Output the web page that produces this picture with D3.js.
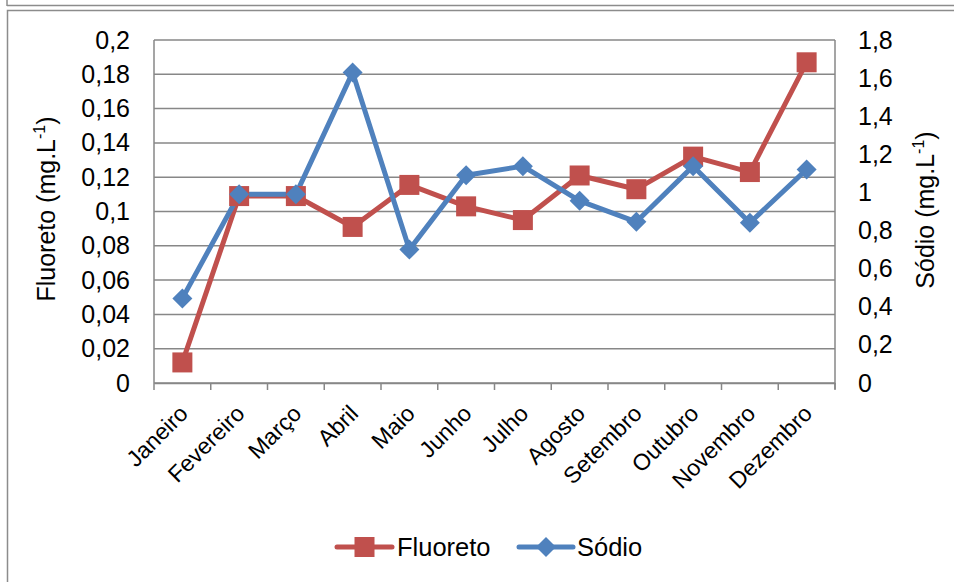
<!DOCTYPE html>
<html><head><meta charset="utf-8">
<script src="https://cdn.jsdelivr.net/npm/d3@7"></script>
<style>body{margin:0;background:#fff}svg{display:block;font-family:"Liberation Sans",Arial,sans-serif}</style>
</head><body>
<svg id="c" width="954" height="582"></svg>
<script>
const months = ["Janeiro","Fevereiro","Março","Abril","Maio","Junho","Julho","Agosto","Setembro","Outubro","Novembro","Dezembro"];
const fluoreto = [0.012,0.109,0.109,0.091,0.1155,0.103,0.095,0.121,0.113,0.132,0.123,0.187];
const sodio = [0.444,0.99,0.99,1.63,0.70,1.09,1.138,0.956,0.846,1.138,0.841,1.121];
const leftTicks = [0,0.02,0.04,0.06,0.08,0.1,0.12,0.14,0.16,0.18,0.2];
const rightTicks = [0,0.2,0.4,0.6,0.8,1,1.2,1.4,1.6,1.8];

const svg = d3.select("#c");
const L=154, R=835, T=40, B=383;
const red="#C0504D", blue="#4F81BD", grid="#878787";
const FF = "Liberation Sans, Arial, sans-serif";
const fmt = v => String(+v.toFixed(2)).replace(".", ",");

// frame
svg.append("line").attr("x1",7).attr("x2",960).attr("y1",5.5).attr("y2",5.5).attr("stroke","#8c8c8c").attr("stroke-width",1.5);
svg.append("line").attr("x1",7).attr("x2",7).attr("y1",0).attr("y2",6).attr("stroke","#8c8c8c").attr("stroke-width",1.5);
svg.append("rect").attr("x",7.5).attr("y",10.5).attr("width",960).attr("height",600).attr("fill","none").attr("stroke","#8c8c8c").attr("stroke-width",1.5);

const x = d3.scaleBand().domain(months).range([L,R]);
const yL = d3.scaleLinear().domain([0,0.2]).range([B,T]);
const yR = d3.scaleLinear().domain([0,1.8]).range([B,T]);

// gridlines
svg.append("g").selectAll("line").data(leftTicks).join("line")
  .attr("x1",L).attr("x2",R).attr("y1",d=>yL(d)).attr("y2",d=>yL(d))
  .attr("stroke",grid).attr("stroke-width",1.5);
// plot borders
svg.append("line").attr("x1",L).attr("x2",L).attr("y1",T).attr("y2",B).attr("stroke",grid).attr("stroke-width",1.5);
svg.append("line").attr("x1",R).attr("x2",R).attr("y1",T).attr("y2",B+6).attr("stroke",grid).attr("stroke-width",1.5);

// x axis
const gx = svg.append("g").attr("transform",`translate(0,${B})`).call(d3.axisBottom(x).tickSize(0).tickFormat(""));
gx.select(".domain").attr("stroke",grid).attr("stroke-width",1.5);
svg.append("g").selectAll("line").data(d3.range(months.length+1)).join("line")
  .attr("x1",i=>L+i*x.step()).attr("x2",i=>L+i*x.step()).attr("y1",B).attr("y2",B+7)
  .attr("stroke",grid).attr("stroke-width",1.5);
svg.append("g").selectAll("text").data(months).join("text")
  .attr("transform",d=>`translate(${x(d)+x.bandwidth()/2+7},${B+32}) rotate(-45)`)
  .attr("text-anchor","end").attr("font-size",23).attr("fill","#000").text(d=>d);

// y axes labels
const gl = svg.append("g").attr("transform",`translate(${L},0)`)
  .call(d3.axisLeft(yL).tickValues(leftTicks).tickSize(0).tickPadding(24).tickFormat(fmt));
gl.select(".domain").remove();
gl.selectAll("text").attr("font-size",25).attr("fill","#000").attr("font-family",FF);
const gr = svg.append("g").attr("transform",`translate(${R},0)`)
  .call(d3.axisRight(yR).tickValues(rightTicks).tickSize(0).tickPadding(23).tickFormat(fmt));
gr.select(".domain").remove();
gr.selectAll("text").attr("font-size",25).attr("fill","#000").attr("font-family",FF);

// axis titles
function title(xp, yc, txt){
  const t = svg.append("text").attr("transform",`translate(${xp},${yc}) rotate(-90)`)
    .attr("text-anchor","middle").attr("font-size",25).attr("fill","#000");
  t.append("tspan").text(txt+" (mg.L");
  t.append("tspan").attr("font-size",16).attr("dy",-10).text("-1");
  t.append("tspan").attr("dy",10).text(")");
}
title(55,209,"Fluoreto");
title(934,210,"Sódio");

// lines
const cx = i => x(months[i])+x.bandwidth()/2;
const lineF = d3.line().x((d,i)=>cx(i)).y(d=>yL(d));
const lineS = d3.line().x((d,i)=>cx(i)).y(d=>yR(d));
svg.append("path").datum(fluoreto).attr("d",lineF).attr("fill","none").attr("stroke",red).attr("stroke-width",5).attr("stroke-linejoin","round");
svg.append("path").datum(sodio).attr("d",lineS).attr("fill","none").attr("stroke",blue).attr("stroke-width",5).attr("stroke-linejoin","round");
svg.append("g").selectAll("rect").data(fluoreto).join("rect")
  .attr("x",(d,i)=>cx(i)-10).attr("y",d=>yL(d)-10)
  .attr("width",20).attr("height",20).attr("fill",red);
const dia = d3.symbol().type(d3.symbolSquare).size(200)();
svg.append("g").selectAll("path").data(sodio).join("path")
  .attr("transform",(d,i)=>`translate(${cx(i)},${yR(d)}) rotate(45)`)
  .attr("d",dia).attr("fill",blue);

// legend
const ly = 547;
const lg = svg.append("g");
lg.append("line").attr("x1",337).attr("x2",392).attr("y1",ly).attr("y2",ly).attr("stroke",red).attr("stroke-width",5).attr("stroke-linecap","round");
lg.append("rect").attr("x",364.5-10).attr("y",ly-10).attr("width",20).attr("height",20).attr("fill",red);
lg.append("text").attr("x",397).attr("y",ly+8.5).attr("font-size",25.5).attr("fill","#000").text("Fluoreto");
lg.append("line").attr("x1",519).attr("x2",573).attr("y1",ly).attr("y2",ly).attr("stroke",blue).attr("stroke-width",5).attr("stroke-linecap","round");
lg.append("path").attr("transform",`translate(546,${ly}) rotate(45)`).attr("d",dia).attr("fill",blue);
lg.append("text").attr("x",577).attr("y",ly+8.5).attr("font-size",25.5).attr("fill","#000").text("Sódio");
</script>
</body></html>
